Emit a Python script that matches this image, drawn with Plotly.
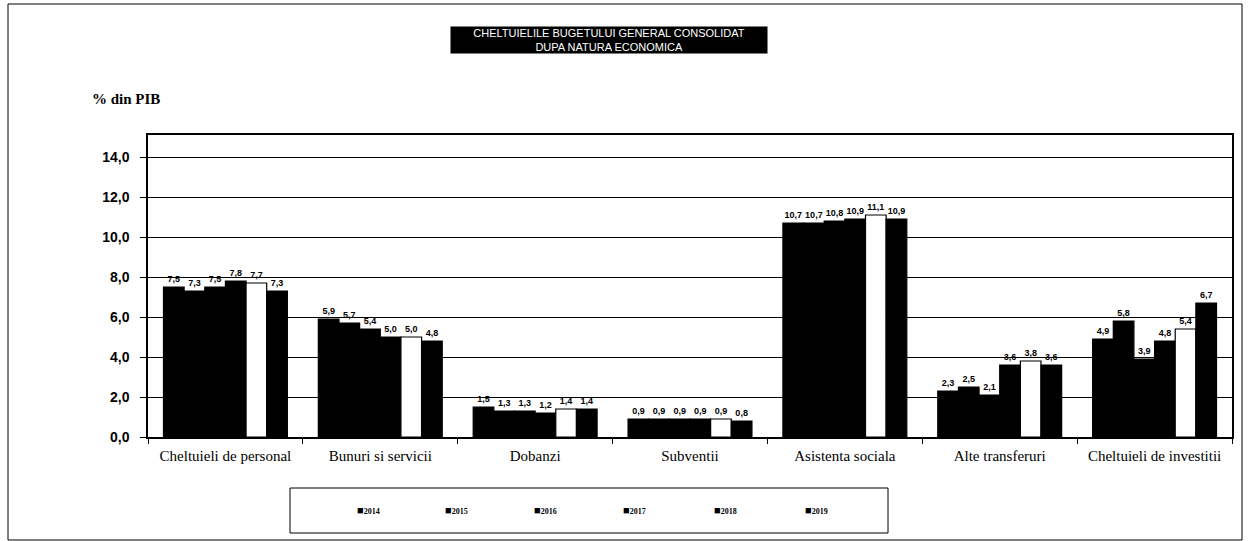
import plotly.graph_objects as go

# Budget expenditure categories (% of GDP)
categories = [
    "Cheltuieli de personal",
    "Bunuri si servicii",
    "Dobanzi",
    "Subventii",
    "Asistenta sociala",
    "Alte transferuri",
    "Cheltuieli de investitii",
]
years = ["2014", "2015", "2016", "2017", "2018", "2019"]

v2014 = [7.5, 5.9, 1.5, 0.9, 10.7, 2.3, 4.9]
v2015 = [7.3, 5.7, 1.3, 0.9, 10.7, 2.5, 5.8]
v2016 = [7.5, 5.4, 1.3, 0.9, 10.8, 2.1, 3.9]
v2017 = [7.8, 5.0, 1.2, 0.9, 10.9, 3.6, 4.8]
v2018 = [7.7, 5.0, 1.4, 0.9, 11.1, 3.8, 5.4]
v2019 = [7.3, 4.8, 1.4, 0.8, 10.9, 3.6, 6.7]

series = [v2014, v2015, v2016, v2017, v2018, v2019]
fills = ["black", "black", "black", "black", "white", "black"]

W, H = 1248, 541
ML, MR, MT, MB = 148, 16, 135, 104
PW, PH = W - ML - MR, H - MT - MB


def px_x(p):
    return (p - ML) / PW


def px_y(p):
    return (H - MB - p) / PH


fig = go.Figure()
for name, vals, fill in zip(years, series, fills):
    fig.add_trace(go.Bar(
        name=name,
        x=categories,
        y=vals,
        marker=dict(color=fill, line=dict(color="black", width=1.2)),
        texttemplate="%{y:.1f}",
        textposition="outside",
        constraintext="none",
        textangle=0,
        cliponaxis=False,
        showlegend=False,
        textfont=dict(family="Liberation Sans", size=9, color="black", weight="bold"),
    ))

fig.update_layout(
    width=W,
    height=H,
    autosize=False,
    margin=dict(l=ML, r=MR, t=MT, b=MB),
    paper_bgcolor="white",
    plot_bgcolor="white",
    separators=", ",
    barmode="group",
    bargap=0.2,
    bargroupgap=0,
    font=dict(family="Liberation Sans", color="black"),
)

fig.update_xaxes(
    type="category",
    tickson="boundaries",
    ticks="outside",
    ticklen=5,
    tickcolor="black",
    showline=True,
    linecolor="black",
    linewidth=1.5,
    mirror=True,
    showgrid=False,
    ticklabelstandoff=4,
    tickfont=dict(family="Liberation Serif", size=15, color="black"),
)

fig.update_yaxes(
    range=[0, 15.1],
    tickvals=[0, 2, 4, 6, 8, 10, 12, 14],
    tickformat=".1f",
    ticks="outside",
    ticklen=6,
    tickcolor="black",
    showline=True,
    linecolor="black",
    linewidth=1.5,
    mirror=True,
    showgrid=True,
    gridcolor="black",
    gridwidth=1,
    zeroline=False,
    ticklabelstandoff=8,
    tickfont=dict(family="Liberation Sans", size=14, color="black", weight="bold"),
)

# Title box
fig.add_annotation(
    text="CHELTUIELILE BUGETULUI GENERAL CONSOLIDAT<br>DUPA NATURA ECONOMICA",
    xref="paper", yref="paper",
    x=px_x(609), y=px_y(40),
    xanchor="center", yanchor="middle",
    showarrow=False,
    bgcolor="black",
    width=316, height=26,
    borderpad=0,
    font=dict(family="Liberation Sans", size=11, color="white"),
)

# Axis unit label
fig.add_annotation(
    text="% din PIB",
    xref="paper", yref="paper",
    x=px_x(90), y=px_y(99),
    xanchor="left", yanchor="middle",
    showarrow=False,
    font=dict(family="Liberation Serif", size=15, color="black", weight="bold"),
)

# Legend: frame plus one swatch+label per year
fig.add_shape(
    type="rect", xref="paper", yref="paper",
    x0=px_x(290), x1=px_x(888), y0=px_y(488), y1=px_y(533),
    line=dict(color="black", width=1), fillcolor="rgba(0,0,0,0)",
)
legend_left = [355, 443, 532, 621, 712, 803]
for year, lx in zip(years, legend_left):
    fig.add_annotation(
        text="<span style='font-size:11px'>■</span>" + year,
        xref="paper", yref="paper",
        x=px_x(lx), y=px_y(510),
        xanchor="left", yanchor="middle",
        showarrow=False,
        font=dict(family="Liberation Serif", size=8, color="black", weight="bold"),
    )

# Outer frame
fig.add_shape(
    type="rect", xref="paper", yref="paper",
    x0=px_x(8), x1=px_x(1242), y0=px_y(540), y1=px_y(4),
    line=dict(color="black", width=1), fillcolor="rgba(0,0,0,0)",
)

fig.write_html("out.html")
